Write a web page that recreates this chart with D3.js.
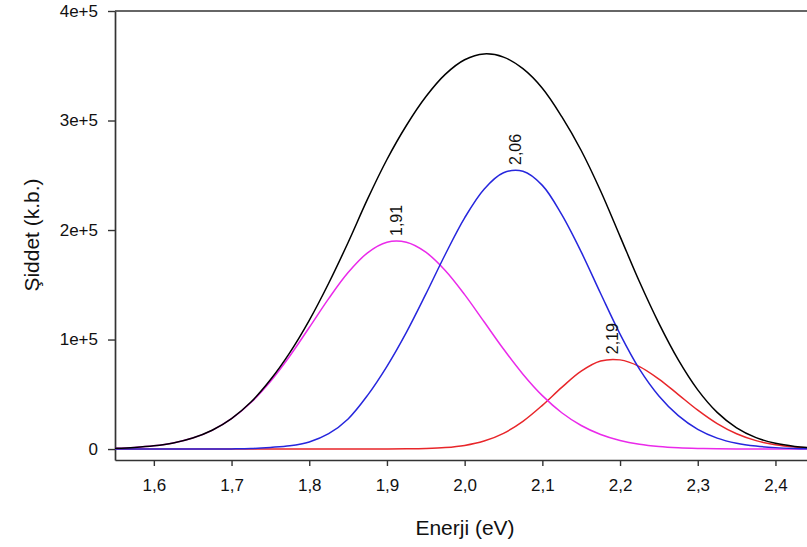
<!DOCTYPE html>
<html>
<head>
<meta charset="utf-8">
<script src="https://cdn.jsdelivr.net/npm/d3@7"></script>
<style>
  html, body { margin: 0; padding: 0; background: #fff; }
  svg { display: block; }
  text { font-family: "Liberation Sans", Arial, sans-serif; fill: #111; }
</style>
</head>
<body>
<svg id="chart" width="807" height="547"></svg>
<script>
// ---- data ----
const energy = [1.550,1.575,1.600,1.625,1.650,1.675,1.700,1.725,1.750,1.775,1.800,1.825,1.850,1.875,1.900,1.925,1.950,1.975,2.000,2.025,2.050,2.075,2.100,2.125,2.150,2.175,2.200,2.225,2.250,2.275,2.300,2.325,2.350,2.375,2.400,2.425,2.450];
const peak191 = [690,1460,2930,5560,10020,17100,27680,42450,61700,84990,110980,137370,161140,179170,188830,188770,179740,163100,141040,116240,91310,68360,48770,33160,21490,13270,7810,4380,2340,1190,580,270,120,50,20,10,0];
const peak206 = [0,0,5,10,25,60,150,450,1500,3000,6500,14000,27500,49000,75500,106510,141440,177670,211130,237300,252250,253630,240760,214000,180000,142000,105000,73000,48500,30500,18000,10000,5300,2700,1300,600,250];
const peak219 = [0,0,0,0,0,0,0,0,0,0,0,0,0,12,46,160,490,1350,3310,7290,14360,25310,39920,56330,71130,80380,81430,75330,63920,49740,35490,23230,13950,7680,3880,1800,760];
const total   = [690,1460,2935,5570,10045,17160,27830,42900,63200,87990,117480,151370,188640,228180,264380,295440,321670,342120,355480,360830,357920,347300,329450,303500,272620,235650,194240,152710,114760,81430,54070,33500,19370,10430,5200,2410,1010];

const xTicks = [1.6,1.7,1.8,1.9,2.0,2.1,2.2,2.3,2.4];
const xTickLabels = ["1,6","1,7","1,8","1,9","2,0","2,1","2,2","2,3","2,4"];
const yTicks = [0,100000,200000,300000,400000];
const yTickLabels = ["0","1e+5","2e+5","3e+5","4e+5"];

const peakLabels = ["1,91","2,06","2,19"];
const peakEnergy = [1.912,2.065,2.19];
const peakHeight = [190000,254800,82000];

const xTitle = "Enerji (eV)";
const yTitle = "Şiddet (k.b.)";

// ---- drawing ----
const svg = d3.select("#chart");
const x = d3.scaleLinear().domain([1.55, 2.45]).range([115, 814.3]);
const y = d3.scaleLinear().domain([-10000, 400000]).range([460, 11]);

const axisColor = "#333";

// y axis
const gy = svg.append("g").attr("transform", "translate(115,0)")
  .call(d3.axisLeft(y).tickValues(yTicks).tickFormat((d,i)=>yTickLabels[i])
        .tickSize(7).tickSizeOuter(0).tickPadding(10));
gy.select(".domain").attr("stroke", axisColor).attr("stroke-width", 1.7);
gy.selectAll(".tick line").attr("stroke", axisColor).attr("stroke-width", 1.4);
gy.selectAll(".tick text").style("font-size", "17px").attr("fill", "#111");

// x axis
const gx = svg.append("g").attr("transform", "translate(0,460)")
  .call(d3.axisBottom(x).tickValues(xTicks).tickFormat((d,i)=>xTickLabels[i])
        .tickSize(6).tickSizeOuter(0).tickPadding(13));
gx.select(".domain").attr("stroke", axisColor).attr("stroke-width", 1.7);
gx.selectAll(".tick line").attr("stroke", axisColor).attr("stroke-width", 1.4);
gx.selectAll(".tick text").style("font-size", "17px").attr("fill", "#111");

// top frame line
svg.append("line").attr("x1", x(1.55)).attr("x2", x(2.45))
  .attr("y1", y(400000)).attr("y2", y(400000))
  .attr("stroke", axisColor).attr("stroke-width", 1.7);

// curves
const line = arr => d3.line()
  .x((d,i)=>x(energy[i])).y(d=>y(d))
  .curve(d3.curveCatmullRom.alpha(0.5))(arr);

const series = [
  {vals: peak219, color: "#e8262a"},
  {vals: peak191, color: "#ea2aea"},
  {vals: peak206, color: "#2626dd"},
  {vals: total,   color: "#000000"}
];
svg.append("g").selectAll("path").data(series).join("path")
  .attr("d", s => line(s.vals))
  .attr("fill", "none")
  .attr("stroke", s => s.color)
  .attr("stroke-width", 1.5);

// peak labels
svg.append("g").selectAll("text").data(peakLabels).join("text")
  .attr("transform", (d,i)=>`translate(${x(peakEnergy[i])+6},${y(peakHeight[i])-5}) rotate(-90)`)
  .attr("text-anchor", "start")
  .style("font-size", "16px")
  .text(d=>d);

// axis titles
svg.append("text").attr("x", 465).attr("y", 535).attr("text-anchor", "middle")
  .style("font-size", "21px").text(xTitle);
svg.append("text").attr("transform", "translate(39,235) rotate(-90)")
  .attr("text-anchor", "middle").style("font-size", "21px").text(yTitle);
</script>
</body>
</html>
